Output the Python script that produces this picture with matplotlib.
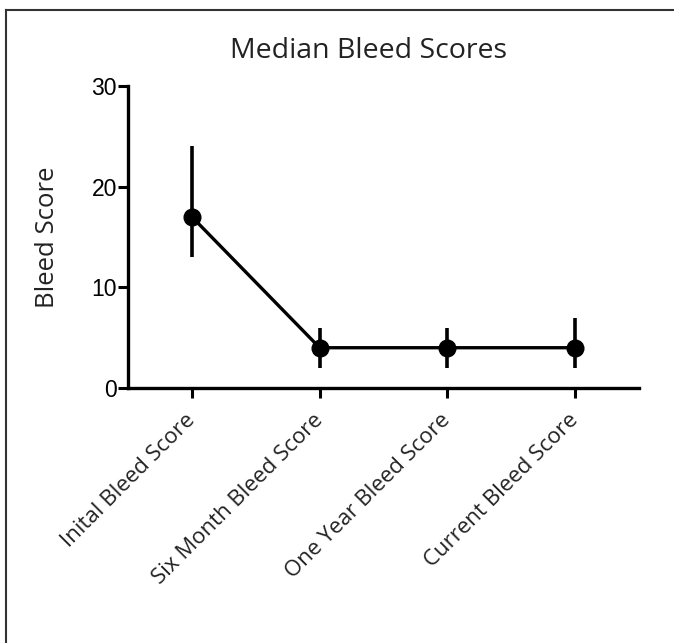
import matplotlib
matplotlib.use('Agg')
import matplotlib.pyplot as plt
from matplotlib.lines import Line2D

# Median bleed scores with ranges
categories = ['Inital Bleed Score', 'Six Month Bleed Score',
              'One Year Bleed Score', 'Current Bleed Score']
medians = [17, 4, 4, 4]
lower = [13, 2, 2, 2]
upper = [24, 6, 6, 7]

fig = plt.figure(figsize=(6.74, 6.43), dpi=100)
ax = fig.add_axes([0.190, 0.3966, 0.758, 0.4696])

xs = list(range(len(categories)))
yerr = [[m - lo for m, lo in zip(medians, lower)],
        [hi - m for m, hi in zip(medians, upper)]]

ax.errorbar(xs, medians, yerr=yerr, color='black', lw=2.4, elinewidth=2.6,
            capsize=0, marker='o', markersize=12)

# axes
ax.set_xlim(-0.5, 3.5)
ax.set_ylim(0, 30)
ax.set_yticks([0, 10, 20, 30])
ax.set_xticks(xs)
ax.set_xticklabels(categories, rotation=45, ha='right', va='center',
                   rotation_mode='anchor',
                   fontsize=16, family='Open Sans', color='#222222')
for lab in ax.get_yticklabels():
    lab.set_fontsize(16.5)
    lab.set_family('Liberation Sans')
ax.tick_params(direction='out', length=7, width=2.2, pad=1)
ax.tick_params(axis='x', pad=14)
for side in ['top', 'right']:
    ax.spines[side].set_visible(False)
for side in ['left', 'bottom']:
    ax.spines[side].set_linewidth(2.4)

ax.set_ylabel('Bleed Score', fontsize=18.5, family='Open Sans', labelpad=23,
              color='#222222')
fig.text(0.546, 1 - 58 / 643, 'Median Bleed Scores', ha='center', va='baseline',
         fontsize=20.5, family='Open Sans', color='#222222')

# frame lines on top and left of the image
fig.add_artist(Line2D([6 / 674, 1], [1 - 9.5 / 643, 1 - 9.5 / 643],
                      color='#333333', lw=1.5))
fig.add_artist(Line2D([6 / 674, 6 / 674], [0, 1 - 9.5 / 643],
                      color='#333333', lw=1.5))

plt.savefig('out.png', dpi=100)
